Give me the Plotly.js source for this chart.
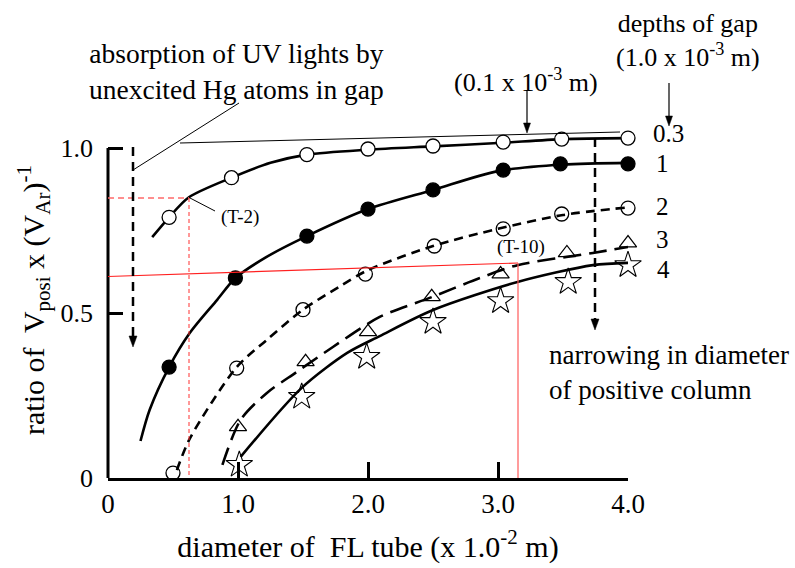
<!DOCTYPE html>
<html>
<head>
<meta charset="utf-8">
<script src="https://cdn.plot.ly/plotly-3.0.1.min.js"></script>
<style>html,body{margin:0;padding:0;background:#fff;}#chart{width:795px;height:568px;}</style>
</head>
<body>
<div id="chart"></div>
<script>
// ---- data ----
// measured points (marker positions)
const s03X = [0.47, 0.95, 1.53, 2.0, 2.5, 3.04, 3.49, 4.0];
const s03Y = [0.79, 0.91, 0.98, 0.997, 1.006, 1.018, 1.027, 1.03];
const s1X  = [0.47, 0.98, 1.53, 2.0, 2.5, 3.04, 3.48, 4.0];
const s1Y  = [0.336, 0.606, 0.733, 0.815, 0.873, 0.933, 0.952, 0.952];
const s2X  = [0.5, 0.99, 1.5, 1.98, 2.51, 3.04, 3.49, 4.0];
const s2Y  = [0.015, 0.333, 0.51, 0.618, 0.703, 0.755, 0.8, 0.818];
const s3X  = [1.0, 1.52, 2.0, 2.49, 3.02, 3.53, 4.0];
const s3Y  = [0.155, 0.352, 0.443, 0.549, 0.618, 0.682, 0.712];
const s4X  = [1.01, 1.49, 1.99, 2.5, 3.02, 3.54, 4.0];
const s4Y  = [0.04, 0.246, 0.367, 0.473, 0.536, 0.594, 0.645];

// fitted curves as drawn in the picture
const c03X = [0.34, 0.47, 0.62, 0.95, 1.25, 1.53, 2.0, 2.5, 3.0, 3.5, 4.0];
const c03Y = [0.73, 0.79, 0.85, 0.91, 0.955, 0.98, 0.995, 1.005, 1.015, 1.027, 1.03];
const c1X  = [0.25, 0.32, 0.47, 0.63, 0.84, 0.98, 1.22, 1.53, 2.0, 2.5, 3.0, 3.5, 4.0];
const c1Y  = [0.112, 0.206, 0.336, 0.44, 0.54, 0.606, 0.67, 0.733, 0.815, 0.873, 0.93, 0.95, 0.955];
const c2X  = [0.53, 0.63, 0.99, 1.22, 1.5, 1.78, 2.0, 2.5, 3.0, 3.5, 4.0];
const c2Y  = [0.024, 0.12, 0.336, 0.418, 0.51, 0.58, 0.63, 0.703, 0.755, 0.797, 0.82];
const c3X  = [0.88, 1.02, 1.22, 1.45, 1.73, 2.09, 2.49, 2.86, 3.15, 3.73, 4.0];
const c3Y  = [0.04, 0.176, 0.257, 0.321, 0.397, 0.488, 0.548, 0.606, 0.645, 0.682, 0.70];
const c4X  = [1.02, 1.49, 1.84, 2.09, 2.5, 3.15, 3.73, 4.0];
const c4Y  = [0.064, 0.273, 0.379, 0.43, 0.509, 0.594, 0.645, 0.652];

const seriesLabels = ['0.3', '1', '2', '3', '4'];
const xTickVals = [0, 1, 2, 3, 4];
const xTickText = ['0', '1.0', '2.0', '3.0', '4.0'];
const yTickVals = [0, 0.5, 1.0];
const yTickText = ['0', '0.5', '1.0'];

// ---- layout helpers (pixel -> paper) ----
const L = 108, R = 628, T = 82, B = 478;
const PX = p => (p - L) / (R - L);
const PY = p => (B - p) / (B - T);
const FONT = 'Liberation Serif, Times New Roman, serif';

function curve(x, y, dash) {
  return {x: x, y: y, mode: 'lines', type: 'scatter', showlegend: false, hoverinfo: 'skip',
    line: {color: '#000', width: 2.6, shape: 'spline', smoothing: 0.8, dash: dash}};
}
function pts(x, y, symbol, size, fill, lw) {
  return {x: x, y: y, mode: 'markers', type: 'scatter', showlegend: false, cliponaxis: false,
    marker: {symbol: symbol, size: size, color: fill, line: {color: '#000', width: lw}}};
}

const traces = [
  curve(c03X, c03Y, 'solid'),
  curve(c1X, c1Y, 'solid'),
  curve(c2X, c2Y, '9px,6px'),
  curve(c3X, c3Y, '18px,8px'),
  curve(c4X, c4Y, 'solid'),
  pts(s03X, s03Y, 'circle', 14, '#fff', 1.3),
  pts(s1X, s1Y, 'circle', 14, '#000', 1.3),
  pts(s2X, s2Y, 'circle-open', 14, '#000', 1.3),
  pts(s3X, s3Y, 'triangle-up-open', 15, '#000', 1.2),
  pts(s4X, s4Y, 'star-open', 20, '#000', 1.1)
];

function seg(x0, y0, x1, y1, color, width, dash) {
  return {type: 'line', xref: 'paper', yref: 'paper', x0: PX(x0), y0: PY(y0), x1: PX(x1), y1: PY(y1),
    line: {color: color, width: width, dash: dash || 'solid'}, layer: 'above'};
}
// small filled arrowhead pointing down, tip at (x, y) in pixels
function head(x, y, w, h) {
  const p = `M ${PX(x)},${PY(y)} L ${PX(x - w / 2)},${PY(y - h)} L ${PX(x + w / 2)},${PY(y - h)} Z`;
  return {type: 'path', xref: 'paper', yref: 'paper', path: p, fillcolor: '#000',
    line: {color: '#000', width: 0.5}, layer: 'above'};
}
const shapes = [
  seg(L, B, L, 148, '#000', 3),                       // y axis line (0 .. 1.0)
  seg(108, 198, 189, 198, '#ff6a6a', 1.5, '6px,4px'),
  seg(189, 198, 189, 478, '#ff3030', 1, '4px,3px'),
  seg(108, 276.5, 518, 263, '#ff2020', 1.2),
  seg(518, 263, 518, 478, '#ff5a5a', 1.2),
  seg(180, 143, 620, 132, '#000', 1),
  seg(133, 170, 239, 103, '#000', 1),
  seg(190, 198, 215, 211, '#000', 1),
  seg(133, 147, 133, 337, '#000', 2.5, '9px,6px'),
  seg(595, 138, 595, 320, '#000', 2.5, '9px,6px'),
  seg(669, 83, 669, 117, '#000', 1.2),
  seg(527, 90, 527, 124, '#000', 1.2),
  head(669, 126, 7, 10),
  head(527, 133, 7, 10),
  head(133, 347, 8, 11),
  head(595, 330, 8, 11)
];

function txt(text, x, y, size, extra) {
  return Object.assign({text: text, xref: 'paper', yref: 'paper', x: PX(x), y: PY(y),
    xanchor: 'center', yanchor: 'middle', showarrow: false,
    font: {family: FONT, size: size, color: '#000'}}, extra || {});
}

const labelY = [133, 163, 206, 239, 269];
const labelX = [668, 662, 662, 662, 663];

const annotations = [
  txt('ratio of  V<sub>posi</sub> x (V<sub>Ar</sub>)<sup>-1</sup>', 33, 300, 30, {textangle: -90}),
  txt('absorption of UV lights by<br>unexcited Hg atoms in gap', 236, 71, 27.5),
  txt('(0.1 x 10<sup>-3</sup> m)', 526, 80, 26),
  txt('depths of gap<br>(1.0 x 10<sup>-3</sup> m)', 688, 41, 26),
  txt('narrowing in diameter<br>of positive column', 547, 372, 27, {xanchor: 'left', align: 'left'}),
  txt('(T-2)', 240, 217, 19),
  txt('(T-10)', 521, 247, 19)
];
seriesLabels.forEach((s, i) => annotations.push(txt(s, labelX[i], labelY[i], 25)));

const layout = {
  width: 795, height: 568,
  margin: {l: L, r: 795 - R, t: T, b: 568 - B, pad: 0},
  paper_bgcolor: '#fff', plot_bgcolor: '#fff',
  font: {family: FONT, color: '#000'},
  showlegend: false,
  xaxis: {
    range: [0, 4], showgrid: false, zeroline: false,
    showline: true, linecolor: '#000', linewidth: 3,
    ticks: 'inside', ticklen: 16, tickwidth: 3, tickcolor: '#000',
    tickvals: xTickVals, ticktext: xTickText,
    tickfont: {family: FONT, size: 27}, ticklabelstandoff: 0,
    title: {text: 'diameter of\u00a0 FL tube (x 1.0<sup>-2</sup> m)', font: {family: FONT, size: 30}, standoff: 18}
  },
  yaxis: {
    range: [0, 1.2], showgrid: false, zeroline: false, showline: false,
    ticks: 'inside', ticklen: 15, tickwidth: 3, tickcolor: '#000',
    tickvals: yTickVals, ticktext: yTickText,
    tickfont: {family: FONT, size: 26}, ticklabelstandoff: 14
  },
  shapes: shapes,
  annotations: annotations
};

Plotly.newPlot('chart', traces, layout, {staticPlot: true, displayModeBar: false});
</script>
</body>
</html>
